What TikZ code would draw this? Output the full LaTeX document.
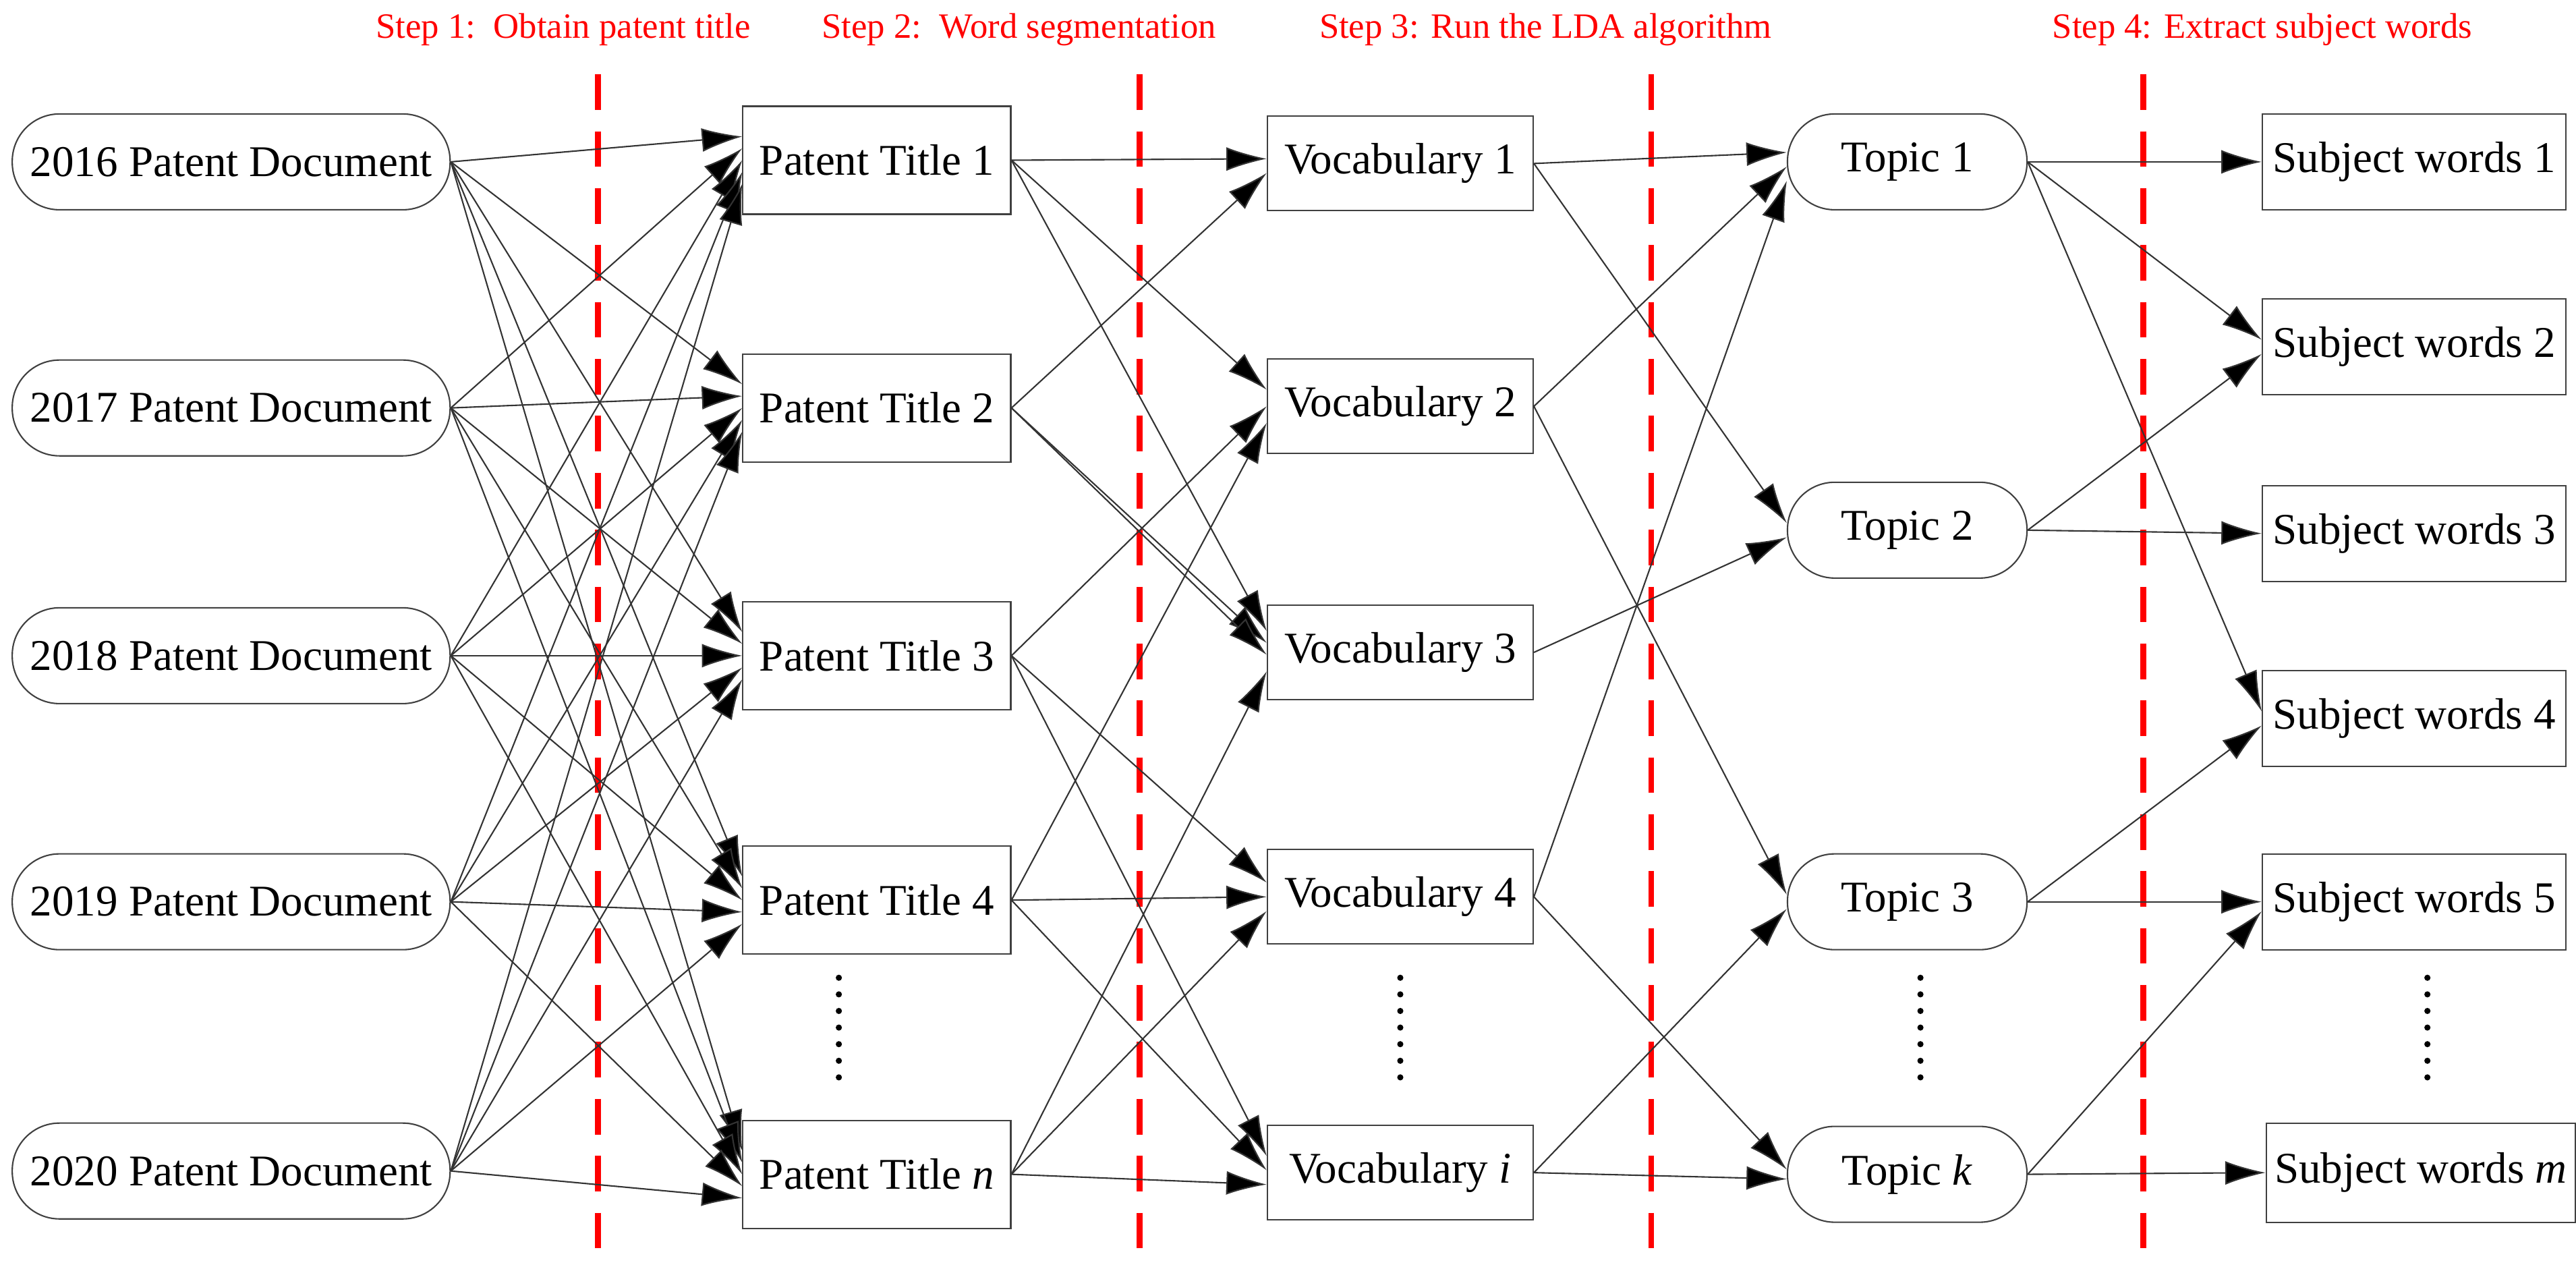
\documentclass[tikz,border=0pt]{standalone}
\usepackage{fontspec}
\setmainfont{Liberation Serif}
\usetikzlibrary{arrows.meta}
\begin{document}
\begin{tikzpicture}[x=0.02448cm,y=-0.02448cm,
  base/.style={draw=black!75,line width=0.6pt,font=\fontsize{18.5}{20}\selectfont,inner sep=0pt},
  docbox/.style={base,minimum width=6.49cm,minimum height=1.42cm,rounded corners=0.7cm},
  ttlbox/.style={base,minimum width=3.97cm,minimum height=1.6cm},
  vocbox/.style={base,minimum width=3.94cm,minimum height=1.4cm},
  topicbox/.style={base,minimum width=3.55cm,minimum height=1.42cm,rounded corners=0.7cm},
  swbox/.style={base,minimum width=4.5cm,minimum height=1.42cm},
  arr/.style={draw=black!80,line width=0.6pt,-{Latex[length=17pt,width=10pt,fill=black]}},
  sepline/.style={red,line width=2.5pt,dash pattern=on 15pt off 9pt},
  steplbl/.style={red,font=\fontsize{15}{17}\selectfont},
  dotline/.style={line width=2.6pt,line cap=round,dash pattern=on 0pt off 7pt}]
\useasboundingbox (0,0) rectangle (1560,767);
% separators
\draw[sepline] (362,45) -- (362,767);
\draw[sepline] (690,45) -- (690,767);
\draw[sepline] (1000,45) -- (1000,767);
\draw[sepline] (1298,45) -- (1298,767);
\node[steplbl] (s1) at (341,18) {Step 1:\ \ Obtain patent title};
\node[steplbl] (s2) at (617,18) {Step 2:\ \ Word segmentation};
\node[steplbl] (s3) at (936,18) {Step 3: Run the LDA algorithm};
\node[steplbl] (s4) at (1370,18) {Step 4: Extract subject words};
% column 1
\node[docbox] (d0) at (140,98) {2016 Patent Document};
\node[docbox] (d1) at (140,247) {2017 Patent Document};
\node[docbox] (d2) at (140,397) {2018 Patent Document};
\node[docbox] (d3) at (140,546) {2019 Patent Document};
\node[docbox] (d4) at (140,709) {2020 Patent Document};
% column 2
\node[ttlbox] (t0) at (531,97) {Patent Title 1};
\node[ttlbox] (t1) at (531,247) {Patent Title 2};
\node[ttlbox] (t2) at (531,397) {Patent Title 3};
\node[ttlbox] (t3) at (531,545) {Patent Title 4};
\node[ttlbox] (t4) at (531,711) {Patent Title \textit{n}};
% column 3
\node[vocbox] (v0) at (848,99) {Vocabulary 1};
\node[vocbox] (v1) at (848,246) {Vocabulary 2};
\node[vocbox] (v2) at (848,395) {Vocabulary 3};
\node[vocbox] (v3) at (848,543) {Vocabulary 4};
\node[vocbox] (v4) at (848,710) {Vocabulary \textit{i}};
% column 4
\node[topicbox] (p0) at (1155,98) {Topic 1};
\node[topicbox] (p1) at (1155,321) {Topic 2};
\node[topicbox] (p2) at (1155,546) {Topic 3};
\node[topicbox] (p3) at (1155,711) {Topic \textit{k}};
% column 5
\node[swbox] (w0) at (1462,98) {Subject words 1};
\node[swbox] (w1) at (1462,210) {Subject words 2};
\node[swbox] (w2) at (1462,323) {Subject words 3};
\node[swbox] (w3) at (1462,435) {Subject words 4};
\node[swbox] (w4) at (1462,546) {Subject words 5};
\node[swbox,minimum width=4.58cm,minimum height=1.47cm] (w5) at (1466,710) {Subject words \textit{m}};
% dots
\draw[dotline] (508,592) -- (508,662);
\draw[dotline] (848,592) -- (848,662);
\draw[dotline] (1163,592) -- (1163,662);
\draw[dotline] (1470,592) -- (1470,662);
% col1 -> col2 (full)
\foreach \i/\o in {0/10,1/5,2/0,3/-5,4/-10}{
  \foreach \j in {0,...,4}{
    \draw[arr] (d\i.east) -- ([yshift=\o pt]t\j.west);
  }
}
% col2 -> col3
\foreach \s/\t/\o in {t0/v0/2,t1/v0/-4,
  t0/v1/7,t2/v1/0,t3/v1/-7,
  t0/v2/9,t1/v2/4,t1/v2/-1,t4/v2/-8,
  t2/v3/6,t3/v3/0,t4/v3/-6,
  t2/v4/7,t3/v4/1,t4/v4/-5}{
  \draw[arr] (\s.east) -- ([yshift=\o pt]\t.west);
}
% col3 -> col4
\foreach \s/\t/\o in {v0/p0/4,v1/p0/-2,v3/p0/-8,
  v0/p1/3,v2/p1/-3,
  v1/p2/3,v4/p2/-3,
  v3/p3/2,v4/p3/-2}{
  \draw[arr] (\s.east) -- ([yshift=\o pt]\t.west);
}
% col4 -> col5
\foreach \s/\t/\o in {p0/w0/0,p0/w1/3,p1/w1/-3,p1/w2/0,
  p0/w3/3,p2/w3/-3,p2/w4/0,p3/w4/-4,p3/w5/0}{
  \draw[arr] (\s.east) -- ([yshift=\o pt]\t.west);
}
\end{tikzpicture}
\end{document}
